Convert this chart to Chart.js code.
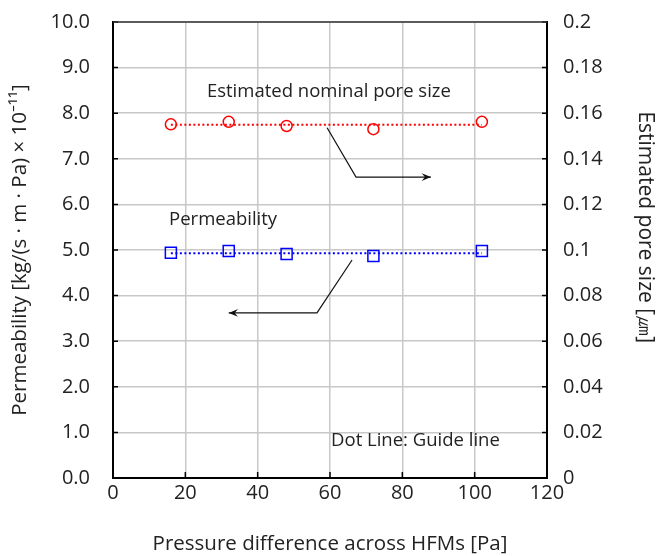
<!DOCTYPE html>
<html>
<head>
<meta charset="utf-8">
<script src="https://cdn.jsdelivr.net/npm/chart.js@4.4.1/dist/chart.umd.min.js"></script>
<style>
  html, body { margin: 0; padding: 0; background: #fff; }
  #wrap { width: 656px; height: 556px; }
</style>
</head>
<body>
<div id="wrap"><canvas id="poreChart" width="656" height="556"></canvas></div>
<script>
// 差圧 [Pa]
const pressureDiff = [16, 32, 48, 72, 102];
// 透過率 [kg/(s·m·Pa) ×10^-11]
const permeability = [4.94, 4.98, 4.91, 4.87, 4.98];
// 推定細孔径 [μm]
const poreSize = [0.1551, 0.1562, 0.1544, 0.1530, 0.1562];
// ガイドライン（点線）
const guideX = [16, 102];
const permeabilityGuide = [4.93, 4.93];
const poreSizeGuide = [0.1549, 0.1549];

const FONT = "'Open Sans', 'Noto Sans', sans-serif";
const RIGHT_TITLE = 'Estimated pore size [㎛]';

// 注釈テキストと矢印（データ座標）
const notes = [
    { text: 'Estimated nominal pore size', x: 59.7, y: 8.46, align: 'center' },
    { text: 'Permeability', x: 15.5, y: 5.66, align: 'left' },
    { text: 'Dot Line: Guide line', x: 60.3, y: 0.81, align: 'left' }
];
const arrows = [
    [[59.2, 7.68], [67.2, 6.60], [87.9, 6.60]],
    [[66.1, 4.78], [56.4, 3.62], [32.0, 3.62]]
];

const toXY = (xs, ys) => xs.map((x, i) => ({ x: x, y: ys[i] }));

// 縦軸の上下余白はラベル分だけにする（tick paddingを含めない）
const fixYAxis = (width) => s => {
    s.width = width;
    s.paddingTop = 12;
    s.paddingBottom = 12;
};

// 内向きの目盛り、上枠、注釈
const decorPlugin = {
    id: 'decor',
    afterDatasetsDraw(chart) {
        const { ctx, chartArea: a, scales } = chart;
        const sx = scales.x, sy = scales.y, sy2 = scales.y2;
        ctx.save();
        ctx.strokeStyle = '#000';
        ctx.lineWidth = 1.5;
        ctx.beginPath();
        sy.ticks.forEach(t => {
            const py = sy.getPixelForValue(t.value);
            ctx.moveTo(a.left, py); ctx.lineTo(a.left + 5, py);
        });
        sy2.ticks.forEach(t => {
            const py = sy2.getPixelForValue(t.value);
            ctx.moveTo(a.right, py); ctx.lineTo(a.right - 5, py);
        });
        sx.ticks.forEach(t => {
            const px = sx.getPixelForValue(t.value);
            ctx.moveTo(px, a.bottom); ctx.lineTo(px, a.bottom - 6);
        });
        ctx.stroke();

        ctx.strokeStyle = '#333';
        ctx.lineWidth = 1.5;
        ctx.beginPath();
        ctx.moveTo(a.left, a.top); ctx.lineTo(a.right, a.top);
        ctx.stroke();

        // 矢印
        ctx.strokeStyle = '#111';
        ctx.fillStyle = '#111';
        ctx.lineWidth = 1.2;
        arrows.forEach(path => {
            const pts = path.map(p => [sx.getPixelForValue(p[0]), sy.getPixelForValue(p[1])]);
            ctx.beginPath();
            pts.forEach((p, i) => i ? ctx.lineTo(p[0], p[1]) : ctx.moveTo(p[0], p[1]));
            ctx.stroke();
            const [x1, y1] = pts[pts.length - 2];
            const [x2, y2] = pts[pts.length - 1];
            const ang = Math.atan2(y2 - y1, x2 - x1);
            ctx.beginPath();
            ctx.moveTo(x2, y2);
            ctx.lineTo(x2 - 10 * Math.cos(ang - 0.4), y2 - 10 * Math.sin(ang - 0.4));
            ctx.lineTo(x2 - 6 * Math.cos(ang), y2 - 6 * Math.sin(ang));
            ctx.lineTo(x2 - 10 * Math.cos(ang + 0.4), y2 - 10 * Math.sin(ang + 0.4));
            ctx.closePath();
            ctx.fill();
        });

        ctx.font = '18.5px ' + FONT;
        ctx.fillStyle = '#222';
        ctx.textBaseline = 'middle';
        notes.forEach(n => {
            ctx.textAlign = n.align;
            ctx.fillText(n.text, sx.getPixelForValue(n.x), sy.getPixelForValue(n.y));
        });

        // 右軸タイトル（やや上寄せ）
        ctx.font = '21px ' + FONT;
        ctx.textAlign = 'center';
        ctx.translate(a.right + 98, sy2.getPixelForValue(0.11));
        ctx.rotate(Math.PI / 2);
        ctx.fillText(RIGHT_TITLE, 0, 0);
        ctx.restore();
    }
};

const ctx = document.getElementById('poreChart').getContext('2d');
new Chart(ctx, {
    type: 'scatter',
    data: {
        datasets: [
            {
                label: 'Pore size guide',
                data: toXY(guideX, poreSizeGuide),
                yAxisID: 'y2',
                showLine: true,
                borderColor: '#ff0000',
                borderWidth: 2,
                borderDash: [2, 2.5],
                pointRadius: 0
            },
            {
                label: 'Permeability guide',
                data: toXY(guideX, permeabilityGuide),
                yAxisID: 'y',
                showLine: true,
                borderColor: '#0000ff',
                borderWidth: 2,
                borderDash: [2, 2.5],
                pointRadius: 0
            },
            {
                label: 'Estimated nominal pore size',
                data: toXY(pressureDiff, poreSize),
                yAxisID: 'y2',
                pointStyle: 'circle',
                pointRadius: 5.5,
                borderColor: '#ff0000',
                backgroundColor: 'rgba(0,0,0,0)',
                borderWidth: 1.5
            },
            {
                label: 'Permeability',
                data: toXY(pressureDiff, permeability),
                yAxisID: 'y',
                pointStyle: 'rect',
                pointRadius: 7.8,
                borderColor: '#0000ff',
                backgroundColor: 'rgba(0,0,0,0)',
                borderWidth: 1.5
            }
        ]
    },
    options: {
        responsive: false,
        animation: false,
        layout: { padding: { top: 22, left: 0, right: 0, bottom: 0 } },
        plugins: {
            legend: { display: false },
            tooltip: { enabled: false }
        },
        scales: {
            x: {
                type: 'linear',
                min: 0, max: 120,
                ticks: { stepSize: 20, padding: 3, color: '#222', font: { family: FONT, size: 20 } },
                grid: { color: '#c8c8c8', lineWidth: 1.5, drawTicks: false },
                border: { color: '#000', width: 2 },
                title: {
                    display: true,
                    text: 'Pressure difference across HFMs [Pa]',
                    color: '#222',
                    font: { family: FONT, size: 20.5 },
                    padding: { top: 14, bottom: 0 }
                },
                afterFit: s => { s.height = 78; }
            },
            y: {
                position: 'left',
                min: 0, max: 10,
                ticks: { stepSize: 1, padding: 23, color: '#222', font: { family: FONT, size: 20 },
                    callback: v => v.toFixed(1) },
                grid: { color: '#c8c8c8', lineWidth: 1.5, drawTicks: false },
                border: { color: '#000', width: 2 },
                title: {
                    display: true,
                    text: 'Permeability [kg/(s · m · Pa) × 10⁻¹¹]',
                    color: '#222',
                    font: { family: FONT, size: 20.5 },
                    padding: { top: 8, bottom: 0 }
                },
                afterFit: fixYAxis(113)
            },
            y2: {
                position: 'right',
                min: 0, max: 0.2,
                ticks: { stepSize: 0.02, padding: 16, color: '#222', font: { family: FONT, size: 20 },
                    callback: v => String(+v.toFixed(2)) },
                grid: { drawOnChartArea: false, drawTicks: false },
                border: { color: '#000', width: 2 },
                title: { display: false },
                afterFit: fixYAxis(109)
            }
        }
    },
    plugins: [decorPlugin]
});
</script>
</body>
</html>
